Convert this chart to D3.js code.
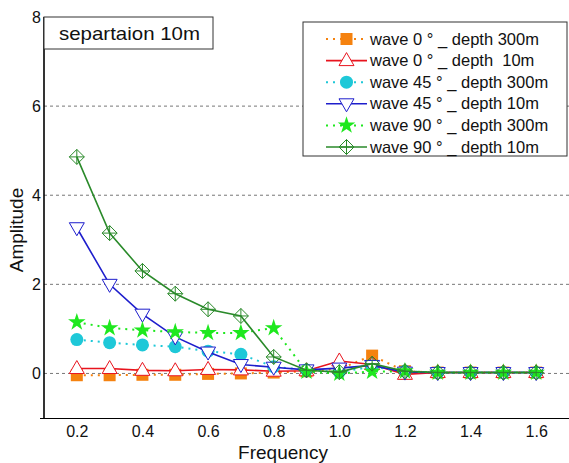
<!DOCTYPE html>
<html>
<head>
<meta charset="utf-8">
<script src="https://cdn.jsdelivr.net/npm/d3@7"></script>
<style>
  body { margin: 0; background: #fff; }
  text { font-family: "Liberation Sans", Arial, sans-serif; }
</style>
</head>
<body>
<svg id="chart" width="569" height="463"></svg>
<script>
// values
const freq = [0.2, 0.3, 0.4, 0.5, 0.6, 0.7, 0.8, 0.9, 1.0, 1.1, 1.2, 1.3, 1.4, 1.5, 1.6];
const wave0_300 = [-0.04, -0.04, -0.03, -0.03, -0.01, 0.0, 0.02, 0.05, 0.1, 0.4, 0.05, 0.02, 0.02, 0.02, 0.02];
const wave0_10 = [0.11, 0.11, 0.07, 0.06, 0.09, 0.08, 0.05, 0.06, 0.28, 0.2, -0.02, 0.02, 0.02, 0.02, 0.02];
const wave45_300 = [0.76, 0.69, 0.64, 0.6, 0.5, 0.43, 0.15, 0.08, 0.03, 0.15, 0.05, 0.02, 0.02, 0.02, 0.02];
const wave45_10 = [3.27, 2.0, 1.33, 0.82, 0.48, 0.2, 0.14, 0.08, 0.12, 0.18, 0.03, 0.02, 0.02, 0.02, 0.02];
const wave90_300 = [1.15, 1.02, 0.97, 0.93, 0.91, 0.91, 1.02, 0.04, 0.0, 0.04, 0.05, 0.02, 0.02, 0.02, 0.02];
const wave90_10 = [4.86, 3.15, 2.3, 1.79, 1.44, 1.29, 0.37, 0.07, 0.03, 0.22, 0.05, 0.02, 0.02, 0.02, 0.02];
const seriesNames = ["wave 0 \u00b0 _ depth 300m", "wave 0 \u00b0 _ depth  10m", "wave 45 \u00b0 _ depth 300m",
                     "wave 45 \u00b0 _ depth 10m", "wave 90 \u00b0 _ depth 300m", "wave 90 \u00b0 _ depth 10m"];
const xTicks = [0.2, 0.4, 0.6, 0.8, 1.0, 1.2, 1.4, 1.6];
const yTicks = [0, 2, 4, 6, 8];

// styling per series
const styles = [
  { color: "#f5820f", dash: "2,5", marker: "square", fill: true },
  { color: "#e8141e", dash: null, marker: "triUp", fill: false },
  { color: "#1ec8d8", dash: "2,5", marker: "circle", fill: true },
  { color: "#1e1ecc", dash: null, marker: "triDown", fill: false },
  { color: "#1ee81e", dash: "2,5", marker: "star", fill: true },
  { color: "#2a8a2a", dash: null, marker: "diamond", fill: false }
];
const allValues = [wave0_300, wave0_10, wave45_300, wave45_10, wave90_300, wave90_10];

const svg = d3.select("#chart");
const pLeft = 44, pRight = 569, pTop = 17, pBottom = 418;

const x = d3.scaleLinear().domain([0.1, 1.7]).range([pLeft, pRight]);
const y = d3.scaleLinear().domain([-1, 8]).range([pBottom, pTop]);

// grid lines (dotted grey)
svg.append("g").selectAll("line")
  .data(yTicks.filter(t => t < 8))
  .enter().append("line")
  .attr("x1", pLeft).attr("x2", pRight)
  .attr("y1", d => y(d)).attr("y2", d => y(d))
  .attr("stroke", "#777").attr("stroke-width", 1)
  .attr("stroke-dasharray", "3,3");

// axes
const xAxis = svg.append("g").attr("transform", `translate(0,${pBottom})`)
  .call(d3.axisBottom(x).tickValues(xTicks).tickSize(0).tickPadding(8).tickFormat(d3.format(".1f")));
xAxis.select(".domain").attr("stroke", "#000").attr("d", `M${pLeft - 4},0.5H${pRight}`);
xAxis.selectAll("text").attr("font-size", 16).attr("fill", "#111")
  .attr("font-family", "Liberation Sans, Arial, sans-serif");

const yAxis = svg.append("g").attr("transform", `translate(${pLeft},0)`)
  .call(d3.axisLeft(y).tickValues(yTicks).tickSize(0).tickPadding(3).tickFormat(d3.format("d")));
yAxis.select(".domain").attr("stroke", "#000").attr("stroke-width", 1.6).attr("d", `M0,${pTop}V${pBottom}`);
yAxis.selectAll("text").attr("font-size", 16).attr("fill", "#111")
  .attr("font-family", "Liberation Sans, Arial, sans-serif");

// axis titles
svg.append("text").attr("x", 283).attr("y", 459)
  .attr("text-anchor", "middle").attr("font-size", 19).attr("fill", "#111").text("Frequency");
svg.append("text").attr("transform", "translate(23,230) rotate(-90)")
  .attr("text-anchor", "middle").attr("font-size", 19).attr("fill", "#111").text("Amplitude");

// marker drawing
function drawMarker(g, kind, color, fill) {
  const fc = fill ? color : "#fff";
  if (kind === "square") {
    g.append("rect").attr("x", -6).attr("y", -6).attr("width", 12).attr("height", 12).attr("fill", color);
  } else if (kind === "circle") {
    g.append("circle").attr("r", 6.5).attr("fill", color);
  } else if (kind === "triUp") {
    g.append("path").attr("d", "M0,-8L7.5,5L-7.5,5Z").attr("fill", fc).attr("stroke", color).attr("stroke-width", 1);
  } else if (kind === "triDown") {
    g.append("path").attr("d", "M0,8L7.5,-5L-7.5,-5Z").attr("fill", fc).attr("stroke", color).attr("stroke-width", 1);
  } else if (kind === "star") {
    g.append("path").attr("d", d3.symbol(d3.symbolStar, 95)()).attr("fill", color);
  } else if (kind === "diamond") {
    g.append("path").attr("d", "M0,-7.5L7.5,0L0,7.5L-7.5,0ZM0,-7.5V7.5M-7.5,0H7.5")
      .attr("fill", "none").attr("stroke", color).attr("stroke-width", 1);
  }
}

const line = d3.line().x((d, i) => x(freq[i])).y(d => y(d));

allValues.forEach((vals, k) => {
  const s = styles[k];
  svg.append("path").datum(vals).attr("d", line)
    .attr("fill", "none").attr("stroke", s.color)
    .attr("stroke-width", s.dash ? 2 : 1.6)
    .attr("stroke-dasharray", s.dash);
  vals.forEach((v, i) => {
    const g = svg.append("g").attr("transform", `translate(${x(freq[i])},${y(v)})`);
    drawMarker(g, s.marker, s.color, s.fill);
  });
});

// title box
svg.append("rect").attr("x", pLeft).attr("y", pTop).attr("width", 169).attr("height", 32)
  .attr("fill", "#fff").attr("stroke", "#333").attr("stroke-width", 1);
svg.append("text").attr("x", 59).attr("y", 40).attr("font-size", 18.5).attr("fill", "#111")
  .attr("textLength", 141).attr("lengthAdjust", "spacingAndGlyphs").text("separtaion 10m");

// legend
const legend = svg.append("g");
legend.append("rect").attr("x", 303).attr("y", 22).attr("width", 264).attr("height", 134)
  .attr("fill", "#fff").attr("stroke", "#333").attr("stroke-width", 1);
seriesNames.forEach((name, k) => {
  const s = styles[k];
  const ly = 39 + k * 21.6;
  legend.append("line").attr("x1", 326).attr("x2", 367).attr("y1", ly).attr("y2", ly)
    .attr("stroke", s.color).attr("stroke-width", s.dash ? 2 : 1.6).attr("stroke-dasharray", s.dash);
  const g = legend.append("g").attr("transform", `translate(346.5,${ly})`);
  drawMarker(g, s.marker, s.color, s.fill);
  legend.append("text").attr("x", 370).attr("y", ly + 5.5).attr("font-size", 16.5).attr("fill", "#111")
    .style("white-space", "pre").text(name);
});
</script>
</body>
</html>
